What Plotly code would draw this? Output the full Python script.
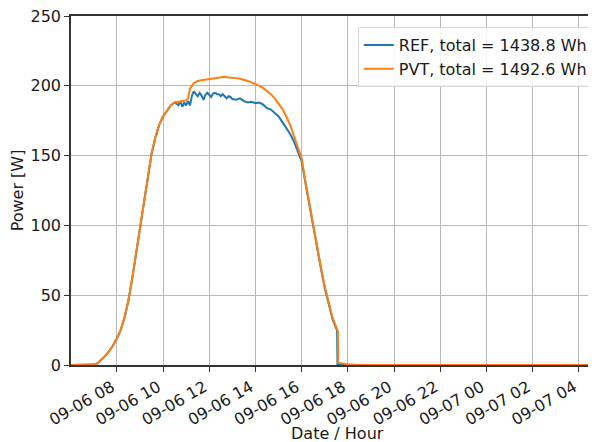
import plotly.graph_objects as go

YEAR = "2021-"

# PVT (orange) series
pvt_time = ["09-06 06:00", "09-06 06:30", "09-06 07:00", "09-06 07:10", "09-06 07:20", "09-06 07:30",
            "09-06 07:40", "09-06 07:50", "09-06 08:00", "09-06 08:05", "09-06 08:10", "09-06 08:20",
            "09-06 08:30", "09-06 08:40", "09-06 08:50", "09-06 09:00", "09-06 09:10", "09-06 09:20",
            "09-06 09:30", "09-06 09:40", "09-06 09:50", "09-06 10:00", "09-06 10:10", "09-06 10:20",
            "09-06 10:30", "09-06 10:40", "09-06 10:50", "09-06 11:00", "09-06 11:05", "09-06 11:10",
            "09-06 11:20", "09-06 11:30", "09-06 11:40", "09-06 11:50", "09-06 12:00", "09-06 12:10",
            "09-06 12:20", "09-06 12:30", "09-06 12:40", "09-06 12:50", "09-06 13:00", "09-06 13:10",
            "09-06 13:20", "09-06 13:30", "09-06 13:40", "09-06 13:50", "09-06 14:00", "09-06 14:10",
            "09-06 14:20", "09-06 14:30", "09-06 14:40", "09-06 14:50", "09-06 15:00", "09-06 15:10",
            "09-06 15:20", "09-06 15:30", "09-06 15:40", "09-06 15:50", "09-06 16:00", "09-06 16:10",
            "09-06 16:20", "09-06 16:30", "09-06 16:40", "09-06 16:50", "09-06 17:00", "09-06 17:10",
            "09-06 17:20", "09-06 17:30", "09-06 17:34", "09-06 17:35", "09-06 17:40", "09-06 17:50",
            "09-06 18:00", "09-06 18:20", "09-06 18:40", "09-06 20:00", "09-06 22:00", "09-07 00:00",
            "09-07 02:00", "09-07 04:00", "09-07 05:10"]
pvt_power = [0, 0, 0.3, 1.2, 3.5, 6.5,
             10, 14, 19, 22, 25, 34,
             46, 62, 80, 97, 117, 136,
             151, 163, 172, 178, 182, 186,
             188, 188.5, 189, 189.5, 191, 198,
             202, 203.5, 204, 204.5, 205, 205.5,
             206, 206.5, 206.5, 206, 206, 205.5,
             205, 204.5, 203.5, 202.5, 201.5, 200,
             198.5, 196.5, 194, 191, 187.5, 183.5,
             178, 172, 164, 156, 148, 131,
             115, 99, 84, 70, 56, 44,
             34, 27, 24, 1.5, 1.2, 0.8,
             0.5, 0.2, 0, 0, 0, 0,
             0, 0, 0]

# REF (blue) series
ref_time = ["09-06 06:00", "09-06 06:30", "09-06 07:00", "09-06 07:10", "09-06 07:20", "09-06 07:30",
            "09-06 07:40", "09-06 07:50", "09-06 08:00", "09-06 08:05", "09-06 08:10", "09-06 08:20",
            "09-06 08:30", "09-06 08:40", "09-06 08:50", "09-06 09:00", "09-06 09:10", "09-06 09:20",
            "09-06 09:30", "09-06 09:40", "09-06 09:50", "09-06 10:00", "09-06 10:10", "09-06 10:20",
            "09-06 10:30", "09-06 10:35", "09-06 10:40", "09-06 10:45", "09-06 10:50", "09-06 10:55",
            "09-06 11:00", "09-06 11:05", "09-06 11:10", "09-06 11:15", "09-06 11:20", "09-06 11:25",
            "09-06 11:30", "09-06 11:35", "09-06 11:40", "09-06 11:45", "09-06 11:50", "09-06 11:55",
            "09-06 12:00", "09-06 12:05", "09-06 12:10", "09-06 12:15", "09-06 12:20", "09-06 12:25",
            "09-06 12:30", "09-06 12:35", "09-06 12:40", "09-06 12:45", "09-06 12:50", "09-06 12:55",
            "09-06 13:00", "09-06 13:10", "09-06 13:20", "09-06 13:30", "09-06 13:40", "09-06 13:50",
            "09-06 14:00", "09-06 14:10", "09-06 14:20", "09-06 14:30", "09-06 14:40", "09-06 14:50",
            "09-06 15:00", "09-06 15:10", "09-06 15:20", "09-06 15:30", "09-06 15:40", "09-06 15:50",
            "09-06 16:00", "09-06 16:10", "09-06 16:20", "09-06 16:30", "09-06 16:40", "09-06 16:50",
            "09-06 17:00", "09-06 17:10", "09-06 17:20", "09-06 17:30", "09-06 17:32", "09-06 17:33",
            "09-06 18:00", "09-06 20:00", "09-06 22:00", "09-07 00:00", "09-07 02:00", "09-07 04:00",
            "09-07 05:10"]
ref_power = [0, 0, 0.3, 1.2, 3.5, 6.5,
             10, 14, 19, 22, 25, 34,
             46, 62, 80, 97, 117, 136,
             151, 163, 172, 178, 182, 186,
             188, 187, 186, 189, 185, 188,
             186, 189, 186, 193, 196, 194,
             192.5, 195, 193, 190, 193.5, 195,
             193.5, 192, 194.5, 195, 194, 194,
             192.5, 194, 192.5, 191, 192.5, 192,
             190.5, 190, 191, 189, 188, 188.5,
             187.5, 188, 186.5, 184, 183, 180.5,
             178, 174, 170, 165.5, 160, 153.5,
             146, 130, 114, 98, 83, 69,
             55, 43, 33, 26, 25, 0,
             0, 0, 0, 0, 0, 0,
             0]

ref_label = "REF, total = 1438.8 Wh"
pvt_label = "PVT, total = 1492.6 Wh"
x_title = "Date / Hour"
y_title = "Power [W]"
y_ticks = [0, 50, 100, 150, 200, 250]

fig = go.Figure()
fig.add_trace(go.Scatter(x=[YEAR + t for t in ref_time], y=ref_power, mode="lines",
                         name=ref_label, line=dict(color="#1f77b4", width=2)))
fig.add_trace(go.Scatter(x=[YEAR + t for t in pvt_time], y=pvt_power, mode="lines",
                         name=pvt_label, line=dict(color="#ff7f0e", width=2)))

font = dict(family="DejaVu Sans", size=16, color="#1a1a1a")
fig.update_layout(
    width=596, height=442,
    margin=dict(l=63, r=0, t=8, b=85),
    paper_bgcolor="white", plot_bgcolor="white",
    font=font,
    showlegend=True,
    legend=dict(x=0.979, y=0.968, xanchor="right", yanchor="top",
                bgcolor="rgba(255,255,255,0.85)", bordercolor="#d6d6d6", borderwidth=1,
                font=dict(family="DejaVu Sans", size=16, color="#1a1a1a"),
                tracegroupgap=0),
    xaxis=dict(
        range=[YEAR + "09-06 06:01", YEAR + "09-07 05:05"],
        type="date", tick0=YEAR + "09-06 00:00", dtick=2 * 3600 * 1000,
        tickformat="%m-%d %H", tickangle=-30,
        showgrid=True, gridcolor="#b8b8b8", gridwidth=1.2,
        showline=True, linecolor="#333333", linewidth=1.5, mirror=True,
        ticks="outside", ticklen=5, tickcolor="#333333",
        tickfont=dict(size=16), ticklabeloverflow="allow", ticklabelshift=-5,
        zeroline=False, automargin=False,
    ),
    yaxis=dict(
        range=[0, 250], tickvals=y_ticks,
        showgrid=True, gridcolor="#b8b8b8", gridwidth=1.2,
        showline=True, linecolor="#333333", linewidth=1.5,
        ticks="outside", ticklen=5, tickcolor="#333333",
        ticklabeloverflow="allow",
        title=dict(text=y_title, standoff=6, font=dict(size=16)),
        zeroline=False, automargin=False,
        tickfont=dict(size=16),
    ),
    annotations=[dict(text=x_title, xref="paper", yref="paper", x=0.5, y=-0.195,
                      xanchor="center", yanchor="middle", showarrow=False,
                      font=dict(family="DejaVu Sans", size=16, color="#1a1a1a"))],
)
fig.write_html("out.html")
